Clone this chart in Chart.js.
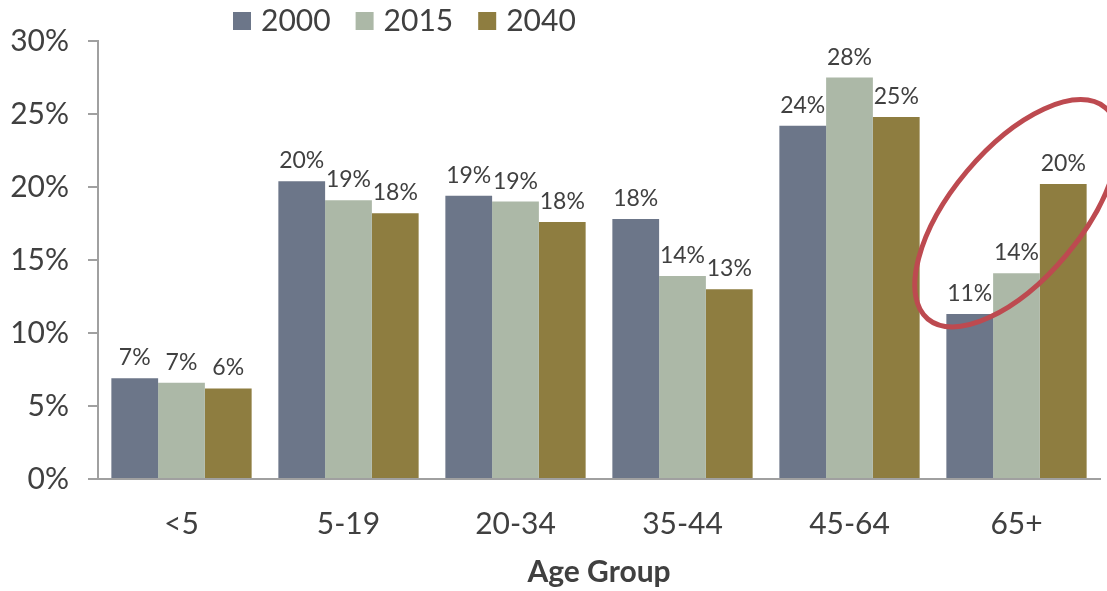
<!DOCTYPE html>
<html>
<head>
<meta charset="utf-8">
<script src="https://cdn.jsdelivr.net/npm/chart.js@4/dist/chart.umd.min.js"></script>
<style>
  html, body { margin: 0; padding: 0; background: #fff; }
  #wrap { width: 1107px; height: 591px; }
</style>
</head>
<body>
<div id="wrap"><canvas id="ageChart" width="1107" height="591"></canvas></div>
<script>
// Share of population by age group (%)
const ageGroups = ['<5', '5-19', '20-34', '35-44', '45-64', '65+'];
const years = ['2000', '2015', '2040'];
const share2000 = [6.9, 20.4, 19.4, 17.8, 24.2, 11.3];
const share2015 = [6.6, 19.1, 19.0, 13.9, 27.5, 14.1];
const share2040 = [6.2, 18.2, 17.6, 13.0, 24.8, 20.2];
const yTicks = [0, 5, 10, 15, 20, 25, 30];

const colors = ['#6c7689', '#acb8a7', '#8e7d40'];
const textColor = '#404040';
const axisColor = '#a0a0a0';
const fontFamily = 'Lato, "Open Sans", sans-serif';

// Value labels above each bar
const barLabels = {
    id: 'barLabels',
    afterDatasetsDraw(chart) {
        const ctx = chart.ctx;
        ctx.save();
        ctx.font = '23px ' + fontFamily;
        ctx.fillStyle = textColor;
        ctx.textAlign = 'center';
        ctx.textBaseline = 'alphabetic';
        chart.data.datasets.forEach((ds, i) => {
            chart.getDatasetMeta(i).data.forEach((bar, j) => {
                ctx.fillText(Math.round(ds.data[j]) + '%', bar.x, bar.y - 13);
            });
        });
        ctx.restore();
    }
};

// Red ring around the 65+ group
const highlight = {
    id: 'highlight',
    afterDatasetsDraw(chart) {
        const ctx = chart.ctx;
        const x = chart.scales.x.getPixelForValue(5);
        const y = chart.scales.y.getPixelForValue(18.2);
        ctx.save();
        ctx.beginPath();
        ctx.ellipse(x, y, 138, 65, -50 * Math.PI / 180, 0, Math.PI * 2);
        ctx.strokeStyle = '#bd4a50';
        ctx.lineWidth = 5;
        ctx.stroke();
        ctx.restore();
    }
};

// Legend row at the top
const topLegend = {
    id: 'topLegend',
    afterDraw(chart) {
        const ctx = chart.ctx;
        ctx.save();
        ctx.font = '30px ' + fontFamily;
        ctx.textBaseline = 'middle';
        ctx.textAlign = 'left';
        let x = 233;
        const y = 21;
        chart.data.datasets.forEach(ds => {
            ctx.fillStyle = ds.backgroundColor;
            ctx.fillRect(x, y - 9, 18, 18);
            x += 28;
            ctx.fillStyle = textColor;
            ctx.fillText(ds.label, x, y);
            x += ctx.measureText(ds.label).width + 25;
        });
        ctx.restore();
    }
};

const ctx = document.getElementById('ageChart').getContext('2d');
new Chart(ctx, {
    type: 'bar',
    data: {
        labels: ageGroups,
        datasets: [
            { label: years[0], data: share2000, backgroundColor: colors[0] },
            { label: years[1], data: share2015, backgroundColor: colors[1] },
            { label: years[2], data: share2040, backgroundColor: colors[2] }
        ]
    },
    options: {
        responsive: false,
        animation: false,
        layout: { padding: { top: 41, right: 7, left: 0, bottom: 0 } },
        datasets: { bar: { categoryPercentage: 0.84, barPercentage: 1.0 } },
        plugins: {
            legend: { display: false },
            tooltip: { enabled: false }
        },
        scales: {
            x: {
                grid: { drawOnChartArea: false, drawTicks: false },
                border: { color: axisColor, width: 2 },
                ticks: {
                    color: textColor,
                    font: { family: fontFamily, size: 30 },
                    padding: 27
                },
                title: {
                    display: true,
                    text: 'Age Group',
                    color: textColor,
                    font: { family: fontFamily, size: 30, weight: 'bold' },
                    padding: { top: 4, bottom: 1 }
                },
                afterFit(scale) { scale.height = 112; }
            },
            y: {
                min: yTicks[0],
                max: yTicks[yTicks.length - 1],
                afterBuildTicks(scale) { scale.ticks = yTicks.map(v => ({ value: v })); },
                grid: { drawOnChartArea: false, tickLength: 10, color: axisColor, lineWidth: 2 },
                border: { color: axisColor, width: 2 },
                ticks: {
                    color: textColor,
                    font: { family: fontFamily, size: 30 },
                    padding: 19,
                    callback: v => v + '%'
                },
                afterFit(scale) { scale.width = 98; }
            }
        }
    },
    plugins: [barLabels, highlight, topLegend]
});
</script>
</body>
</html>
